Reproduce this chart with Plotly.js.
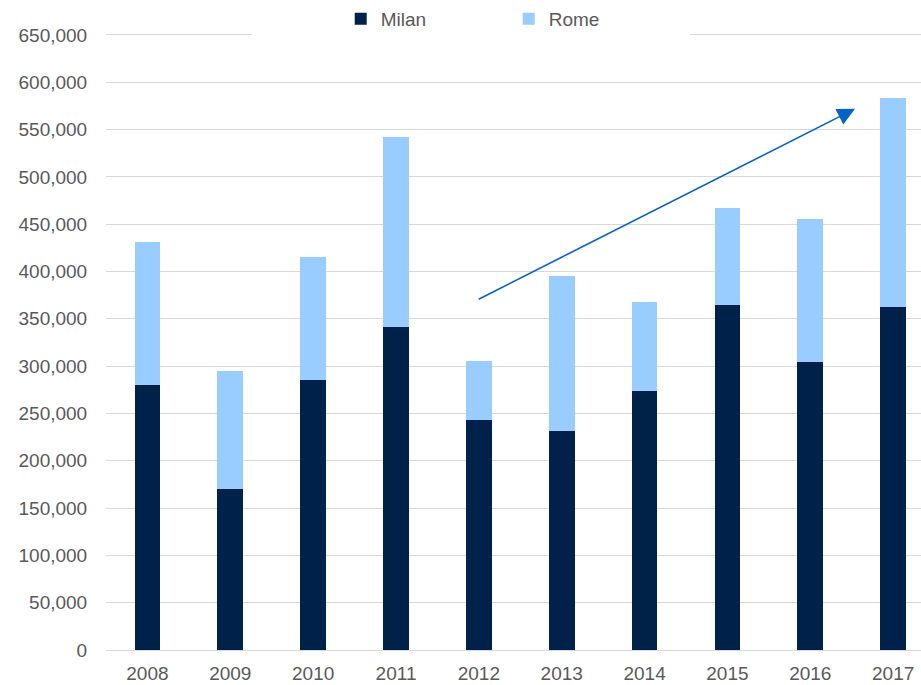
<!DOCTYPE html>
<html>
<head>
<meta charset="utf-8">
<script src="https://cdn.plot.ly/plotly-3.0.1.min.js"></script>
<style>
html,body{margin:0;padding:0;background:#fff;}
#chart{width:921px;height:685px;}
</style>
</head>
<body>
<div id="chart"></div>
<script>
const years = ["2008","2009","2010","2011","2012","2013","2014","2015","2016","2017"];
const milan = [280000,170000,285000,341000,243000,231000,274000,365000,304000,363000];
const rome  = [151000,125000,130000,201000,62000,164000,94000,102000,151000,220000];
const yTickVals = [0,50000,100000,150000,200000,250000,300000,350000,400000,450000,500000,550000,600000,650000];
const arrowFrom = {x: 3.98, y: 370000};
const arrowTo = {x: 8.54, y: 572000};

const font = {family: "Liberation Sans, Arial, sans-serif", size: 19, color: "#595959"};

const traces = [
  {type: "bar", name: "Milan", x: years, y: milan, marker: {color: "#00214A"}, hoverinfo: "skip"},
  {type: "bar", name: "Rome", x: years, y: rome, marker: {color: "#99CCFF"}, hoverinfo: "skip"}
];

const layout = {
  width: 921, height: 685,
  margin: {l: 106, r: 0, t: 31, b: 35, pad: 0},
  paper_bgcolor: "#fff", plot_bgcolor: "#fff",
  font: font,
  barmode: "stack",
  bargap: 0.69,
  showlegend: true,
  legend: {
    orientation: "h", x: 0.288, xanchor: "left", y: 1.023, yanchor: "middle",
    bgcolor: "rgba(0,0,0,0)", font: font, entrywidth: 123, entrywidthmode: "pixels",
    traceorder: "normal"
  },
  xaxis: {
    type: "category", range: [-0.5, 9.336], showgrid: false, zeroline: false,
    showline: false, ticks: "outside", ticklen: 6, tickcolor: "rgba(0,0,0,0)",
    tickfont: font, fixedrange: true
  },
  yaxis: {
    range: [0, 652100], tickvals: yTickVals, tickformat: ",d",
    showgrid: true, gridcolor: "#D9D9D9", gridwidth: 1, zeroline: true, zerolinecolor: "#D9D9D9",
    showline: false, ticks: "outside", ticklen: 14, tickcolor: "rgba(0,0,0,0)",
    tickfont: font, fixedrange: true
  },
  shapes: [
    {type: "rect", xref: "paper", yref: "paper", x0: 0.179, x1: 0.7166, y0: 0.985, y1: 1.02,
     fillcolor: "#fff", line: {width: 0}, layer: "above"}
  ],
  annotations: [
    {xref: "x", yref: "y", axref: "x", ayref: "y",
     x: arrowTo.x, y: arrowTo.y, ax: arrowFrom.x, ay: arrowFrom.y,
     text: "", showarrow: true, arrowhead: 2, arrowsize: 2.2, arrowwidth: 1.6, arrowcolor: "#0563C1"}
  ]
};

Plotly.newPlot("chart", traces, layout, {displayModeBar: false, staticPlot: true});
</script>
</body>
</html>
